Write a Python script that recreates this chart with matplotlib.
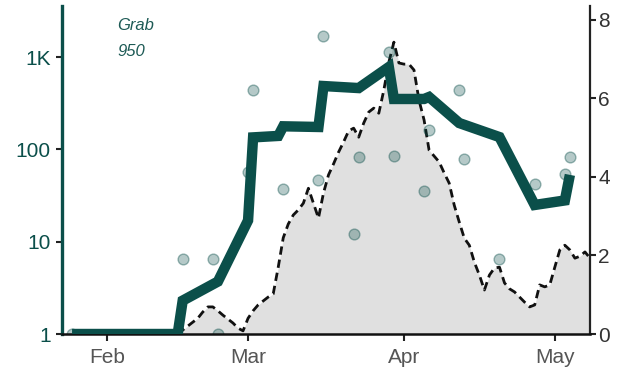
import numpy as np
import matplotlib
matplotlib.use("Agg")
import matplotlib.pyplot as plt

TEAL = "#0b4f4a"

# thick line, left (log) axis
line_dates = ["2021-01-25", "2021-02-15", "2021-02-16", "2021-02-23", "2021-03-01",
              "2021-03-02", "2021-03-07", "2021-03-08", "2021-03-15", "2021-03-16",
              "2021-03-23", "2021-03-29", "2021-03-30", "2021-04-05", "2021-04-06",
              "2021-04-12", "2021-04-20", "2021-04-27", "2021-05-03", "2021-05-04"]
line_vals = [1, 1, 2.3, 3.7, 17, 135, 140, 178, 175, 486,
             462, 781, 352, 352, 370, 193, 136, 25, 28, 53]

# single samples, left (log) axis
dot_dates = ["2021-01-25", "2021-02-16", "2021-02-22", "2021-02-23", "2021-03-01",
             "2021-03-02", "2021-03-08", "2021-03-15", "2021-03-16", "2021-03-22",
             "2021-03-23", "2021-03-29", "2021-03-30", "2021-04-05", "2021-04-06",
             "2021-04-12", "2021-04-13", "2021-04-20", "2021-04-27", "2021-05-03",
             "2021-05-04"]
dot_vals = [1, 6.5, 6.5, 1.0, 57, 440, 37, 47, 1690, 12.1,
            83, 1136, 85, 35, 162, 440, 79, 6.5, 42, 54, 83]

# daily curve, right axis, Feb 15 .. May 8
curve_start = "2021-02-15"
curve_vals = [0.0, 0.1, 0.2, 0.3, 0.4, 0.56, 0.69, 0.69, 0.59, 0.48,
              0.38, 0.28, 0.15, 0.08, 0.4, 0.59, 0.74, 0.84, 0.94, 1.02,
              1.7, 2.45, 2.8, 3.03, 3.16, 3.33, 3.71, 3.33, 2.95, 3.59,
              4.05, 4.33, 4.63, 4.89, 5.17, 5.24, 5.01, 5.37, 5.65, 5.75,
              5.62, 6.21, 6.92, 7.43, 6.9, 6.87, 6.87, 6.72, 5.95, 5.45,
              4.68, 4.53, 4.38, 4.1, 3.84, 3.28, 2.85, 2.44, 2.26, 1.83,
              1.5, 1.12, 1.5, 1.68, 1.7, 1.3, 1.15, 1.07, 0.94, 0.81,
              0.69, 0.74, 1.25, 1.2, 1.25, 1.7, 2.14, 2.26, 2.14, 1.93,
              1.98, 2.09, 1.93]

left_ticks = [1, 10, 100, 1000]
left_labels = ["1", "10", "100", "1K"]
right_ticks = [0, 2, 4, 6, 8]
month_ticks = ["2021-02-01", "2021-03-01", "2021-04-01", "2021-05-01"]
month_labels = ["Feb", "Mar", "Apr", "May"]

plt.rcParams["font.family"] = ["Liberation Sans", "DejaVu Sans"]

line_x = np.array(line_dates, dtype="datetime64[D]")
dot_x = np.array(dot_dates, dtype="datetime64[D]")
curve_x = np.datetime64(curve_start) + np.arange(len(curve_vals))

fig = plt.figure(figsize=(6.2, 3.77), dpi=100)
ax = fig.add_axes([62 / 620, 43 / 377, 528 / 620, 328 / 377])
ax2 = ax.twinx()
ax.set_zorder(ax2.get_zorder() + 1)
ax.patch.set_visible(False)

# right axis: shaded daily curve
ax2.fill_between(curve_x, 0, curve_vals, color="#e0e0e0", lw=0)
ax2.plot(curve_x, curve_vals, color="#111111", lw=2.0, dashes=(3.0, 1.8))
ax2.set_ylim(0, 8.35)
ax2.set_yticks(right_ticks)
ax2.tick_params(axis="y", labelsize=15, labelcolor="#333333", color="#222222",
                length=4, width=1.5, pad=2)
for s in ["top", "left", "bottom"]:
    ax2.spines[s].set_visible(False)
ax2.spines["right"].set_linewidth(1.6)
ax2.spines["right"].set_color("#222222")

# left axis: samples and thick line
ax.scatter(dot_x, dot_vals, s=60, facecolor=(11 / 255, 79 / 255, 74 / 255, 0.3),
           edgecolor=(11 / 255, 79 / 255, 74 / 255, 0.4), lw=1, zorder=2)
ax.plot(line_x, line_vals, color=TEAL, lw=7.5, solid_joinstyle="miter",
        solid_capstyle="butt", zorder=3)
ax.set_yscale("log")
ax.set_ylim(1, 3580)
ax.set_yticks(left_ticks)
ax.set_yticklabels(left_labels)
ax.minorticks_off()
ax.tick_params(axis="y", labelsize=15, labelcolor=TEAL, color="#222222",
               length=4, width=1.5, pad=4)

ax.set_xlim(np.datetime64("2021-01-23"), np.datetime64("2021-05-08"))
ax.set_xticks(np.array(month_ticks, dtype="datetime64[D]"))
ax.set_xticklabels(month_labels)
ax.tick_params(axis="x", labelsize=15, labelcolor="#555555", color="#222222",
               length=5, width=1.5, pad=5)

for s in ["top", "right"]:
    ax.spines[s].set_visible(False)
ax.spines["left"].set_color(TEAL)
ax.spines["left"].set_linewidth(2.4)
ax.spines["bottom"].set_color("#111111")
ax.spines["bottom"].set_linewidth(1.8)

fig.text(117 / 620, 1 - 25 / 377, "Grab", fontsize=12, style="italic",
         color="#1d5a55", va="center", ha="left")
fig.text(117 / 620, 1 - 51 / 377, "950", fontsize=12, style="italic",
         color="#1d5a55", va="center", ha="left")

fig.savefig("out.png", dpi=100)
